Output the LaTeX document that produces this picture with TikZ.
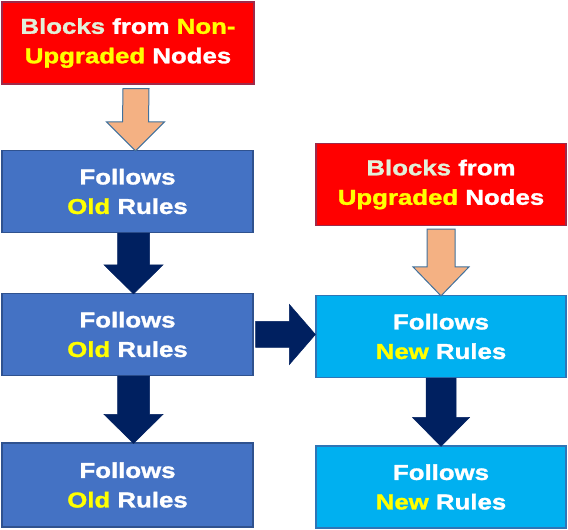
\documentclass[tikz,border=0pt]{standalone}
\usepackage{fontspec}
\setmainfont{Liberation Sans}[BoldFeatures={FakeStretch=1.2,FakeBold=1.4}]
\usetikzlibrary{calc}
\definecolor{boxred}{HTML}{FF0000}
\definecolor{redline}{HTML}{9E2A4A}
\definecolor{boxblue}{HTML}{4472C4}
\definecolor{blueline}{HTML}{2F528F}
\definecolor{boxcyan}{HTML}{00B0F0}
\definecolor{cyanline}{HTML}{2E75B6}
\definecolor{peach}{HTML}{F4B183}
\definecolor{peachline}{HTML}{41719C}
\definecolor{navy}{HTML}{002060}
\definecolor{pgreen}{HTML}{E2F0D9}
\definecolor{ylw}{HTML}{FFFF00}
\newcommand\fatdown[5]{%
  \draw[#1] ($(#2)+(-#4,0)$) -- ($(#3)+(-#4,29)$) -- ($(#3)+(-#5,29)$) -- (#3)
    -- ($(#3)+(#5,29)$) -- ($(#3)+(#4,29)$) -- ($(#2)+(#4,0)$) -- cycle;}
\begin{document}
\begin{tikzpicture}[x=1pt,y=1pt,
  base/.style={minimum height=82pt, align=center, text=white, line width=1.2pt,
    font=\bfseries\fontsize{21.5}{29.5}\selectfont, inner sep=0pt},
  redbox/.style={base, fill=boxred, draw=redline},
  bluebox/.style={base, fill=boxblue, draw=blueline, minimum width=251pt},
  cyanbox/.style={base, fill=boxcyan, draw=cyanline, minimum width=250pt},
  peacharrow/.style={fill=peach, draw=peachline, line width=1pt, line join=miter},
  navyarrow/.style={fill=navy, draw=navy, line width=0.5pt}]
\useasboundingbox (0,0) rectangle (568,530);
\fill[white] (0,0) rectangle (568,530);
% left column
\node[redbox, minimum width=252pt] (nonup) at (128,487)
  {\textcolor{pgreen}{Blocks} from \textcolor{ylw}{Non-}\\\textcolor{ylw}{Upgraded} Nodes};
\node[bluebox] (old1) at (127.5,338.5) {Follows\\\textcolor{ylw}{Old} Rules};
\node[bluebox] (old2) at (127.5,195.5) {Follows\\\textcolor{ylw}{Old} Rules};
\node[bluebox, minimum height=84pt] (old3) at (127.5,45) {Follows\\\textcolor{ylw}{Old} Rules};
% right column
\node[redbox, minimum width=250pt] (up) at (441,345.5)
  {\textcolor{pgreen}{Blocks} from\\\textcolor{ylw}{Upgraded} Nodes};
\node[cyanbox] (new1) at (441,193.5) {Follows\\\textcolor{ylw}{New} Rules};
\node[cyanbox] (new2) at (441,43) {Follows\\\textcolor{ylw}{New} Rules};
% arrow end points
\coordinate (a1s) at ($(nonup.south)+(8,-4)$);
\coordinate (a1e) at ($(old1.north)+(8,-1)$);
\coordinate (a2s) at ($(old1.south)+(6,0)$);
\coordinate (a2e) at ($(old2.north)+(6,-1)$);
\coordinate (a3s) at ($(old2.south)+(6,0)$);
\coordinate (a3e) at ($(old3.north)+(6,-1)$);
\coordinate (b1s) at ($(up.south)+(0,-3)$);
\coordinate (b1e) at ($(new1.north)+(0,-1)$);
\coordinate (b2s) at ($(new1.south)+(0,0)$);
\coordinate (b2e) at ($(new2.north)+(0,-1)$);
\fatdown{peacharrow}{a1s}{a1e}{13}{29}
\fatdown{navyarrow}{a2s}{a2e}{16}{29.5}
\fatdown{navyarrow}{a3s}{a3e}{16}{29.5}
\fatdown{peacharrow}{b1s}{b1e}{14}{28}
\fatdown{navyarrow}{b2s}{b2e}{15}{28.5}
% horizontal arrow
\coordinate (hs) at ($(old2.east)+(2,0)$);
\coordinate (he) at (new1.west |- hs);
\draw[navyarrow] ($(hs)+(0,13)$) -- ($(he)+(-26,13)$) -- ($(he)+(-26,30)$) -- (he)
  -- ($(he)+(-26,-30)$) -- ($(he)+(-26,-13)$) -- ($(hs)+(0,-13)$) -- cycle;
\end{tikzpicture}
\end{document}
